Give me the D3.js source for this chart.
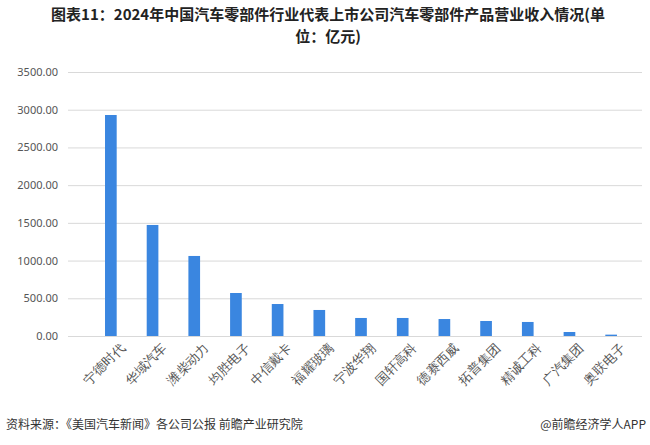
<!DOCTYPE html>
<html><head><meta charset="utf-8">
<script src="https://cdn.jsdelivr.net/npm/d3@7"></script>
<style>body{margin:0;background:#fff;font-family:"Noto Sans CJK SC","Noto Sans",sans-serif;}</style>
</head><body><svg id="chart"></svg>
<script>
const companies = ["宁德时代","华域汽车","潍柴动力","均胜电子","中信戴卡","福耀玻璃","宁波华翔","国轩高科","德赛西威","拓普集团","精诚工科","广汽集团","奥联电子"];
const revenue = [2930, 1472, 1061, 570, 424, 345, 239, 239, 225, 199, 186, 53, 18];
const yTicks = [0, 500, 1000, 1500, 2000, 2500, 3000, 3500];

const W = 650, H = 445;
const MARGIN = {top: 72, right: 8, bottom: 109, left: 68};
const CHART_WIDTH = W - MARGIN.left - MARGIN.right;
const CHART_HEIGHT = H - MARGIN.top - MARGIN.bottom;

const svg = d3.select("#chart").attr("width", W).attr("height", H);

// Title
const title = svg.append("text").attr("text-anchor", "middle")
	.attr("font-weight", "bold").attr("font-size", 15).attr("fill", "#222");
title.append("tspan").attr("x", 328).attr("y", 20).text("图表11：2024年中国汽车零部件行业代表上市公司汽车零部件产品营业收入情况(单");
title.append("tspan").attr("x", 328).attr("y", 42).text("位：亿元)");

const xScale = d3.scaleBand().domain(companies).range([7, 579]).padding(0.72);
const yScale = d3.scaleLinear().domain([0, 3500]).range([CHART_HEIGHT, 0]);

const chart = svg.append("g").attr("transform", `translate(${MARGIN.left}, ${MARGIN.top})`);

// Y-axis with gridlines
const yAxis = chart.append("g")
	.call(d3.axisLeft(yScale).tickValues(yTicks).tickSize(-CHART_WIDTH).tickFormat(d3.format(".2f")).tickPadding(10));
yAxis.select(".domain").remove();
yAxis.selectAll("line").attr("stroke", "#d9d9d9");
yAxis.selectAll("text").attr("font-size", 11).attr("fill", "#555").attr("font-family", "Noto Sans, sans-serif");

// Bars
chart.selectAll(".bar").data(companies).enter().append("rect")
	.attr("x", d => xScale(d))
	.attr("width", xScale.bandwidth())
	.attr("y", (d, i) => yScale(revenue[i]))
	.attr("height", (d, i) => CHART_HEIGHT - yScale(revenue[i]))
	.attr("fill", "#3a86e0");

// X-axis
const xAxis = chart.append("g").attr("transform", `translate(0, ${CHART_HEIGHT})`)
	.call(d3.axisBottom(xScale).tickSize(0).tickPadding(8));
xAxis.select(".domain").remove();
xAxis.selectAll("text").attr("font-size", 13).attr("fill", "#555")
	.attr("text-anchor", "end").attr("dy", "0.35em")
	.attr("transform", "translate(6,4) rotate(-45)");

// Footer
svg.append("text").attr("x", 6).attr("y", 429).attr("font-size", 12).attr("fill", "#333")
	.text("资料来源：《美国汽车新闻》各公司公报 前瞻产业研究院");
svg.append("text").attr("x", 646).attr("y", 429).attr("text-anchor", "end").attr("font-size", 12).attr("fill", "#333")
	.text("@前瞻经济学人APP");
</script></body></html>
